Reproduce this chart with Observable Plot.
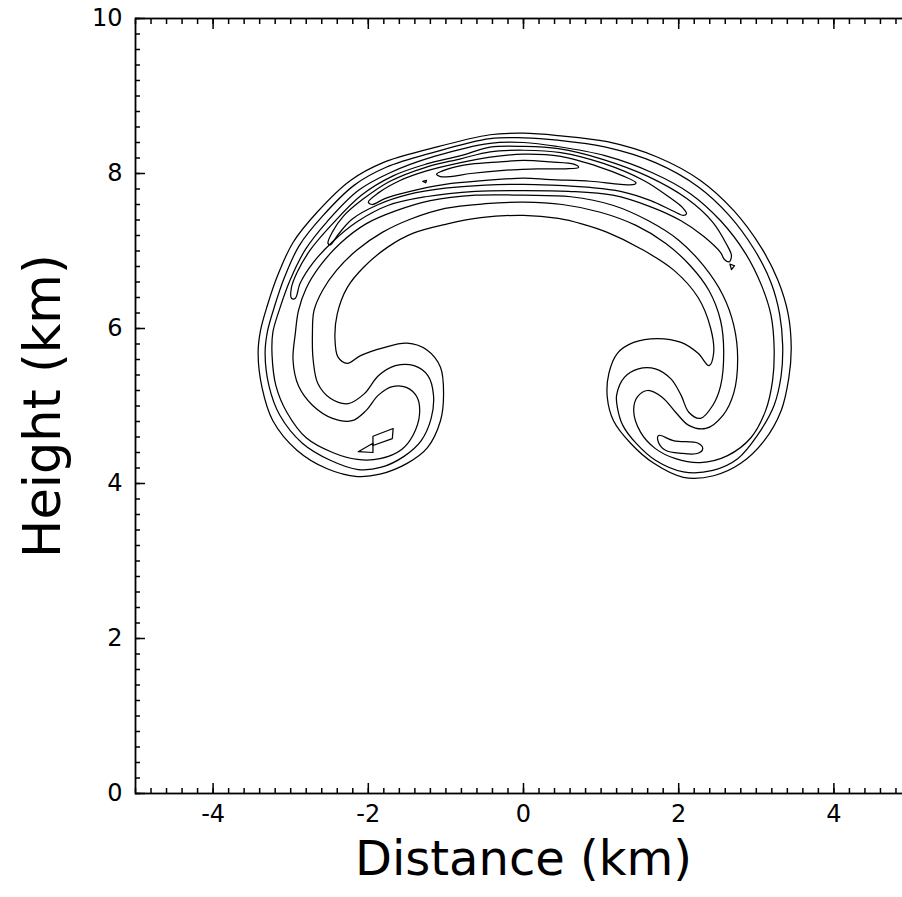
<!DOCTYPE html>
<html>
<head>
<meta charset="utf-8">
<script src="https://cdn.jsdelivr.net/npm/d3@7"></script>
<script src="https://cdn.jsdelivr.net/npm/@observablehq/plot@0.6"></script>
<style>
html, body { margin: 0; padding: 0; background: #fff; overflow: hidden; }
#chart svg { display: block; }
</style>
</head>
<body>
<div id="chart"></div>
<script>
// ---- axis data ----
const xTicks = [-4, -2, 0, 2, 4];
const xTickLabels = ["-4", "-2", "0", "2", "4"];
const yTicks = [0, 2, 4, 6, 8, 10];
const yTickLabels = ["0", "2", "4", "6", "8", "10"];
const xLabel = "Distance (km)";
const yLabel = "Height (km)";

// ---- contour lines, [distance km, height km] ----
const level1 = [[-2.27,5.55],[-2.39,5.63],[-2.43,5.88],[-2.40,6.19],[-2.27,6.53],[-2.06,6.79],[-1.75,7.05],[-1.42,7.23],[-0.98,7.35],[-0.55,7.43],[0.00,7.46],[0.45,7.42],[0.75,7.35],[1.08,7.24],[1.51,7.03],[1.94,6.75],[2.25,6.40],[2.41,6.01],[2.45,5.68],[2.39,5.52],[2.25,5.68],[2.03,5.82],[1.73,5.87],[1.42,5.82],[1.21,5.68],[1.10,5.42],[1.08,5.11],[1.16,4.81],[1.38,4.52],[1.68,4.26],[2.06,4.08],[2.45,4.10],[2.80,4.26],[3.10,4.55],[3.32,4.94],[3.42,5.37],[3.45,5.75],[3.41,6.19],[3.28,6.62],[3.06,7.05],[2.71,7.52],[2.28,7.91],[1.73,8.21],[1.08,8.41],[0.44,8.49],[0.00,8.52],[-0.43,8.50],[-1.20,8.32],[-1.81,8.14],[-2.23,7.91],[-2.66,7.50],[-2.97,7.11],[-3.17,6.68],[-3.30,6.30],[-3.39,5.97],[-3.42,5.68],[-3.37,5.24],[-3.23,4.81],[-2.92,4.43],[-2.53,4.19],[-2.14,4.09],[-1.85,4.12],[-1.50,4.26],[-1.24,4.46],[-1.07,4.81],[-1.03,5.16],[-1.07,5.50],[-1.24,5.72],[-1.50,5.81],[-1.81,5.75],[-2.10,5.65]];

const level2 = [[-2.26,5.03],[-2.49,5.10],[-2.65,5.29],[-2.71,5.59],[-2.72,5.94],[-2.70,6.23],[-2.59,6.49],[-2.41,6.75],[-2.15,7.01],[-1.82,7.24],[-1.46,7.41],[-1.01,7.55],[-0.49,7.61],[0.00,7.63],[0.50,7.60],[0.99,7.50],[1.45,7.33],[1.83,7.10],[2.15,6.81],[2.39,6.49],[2.54,6.10],[2.58,5.69],[2.54,5.26],[2.44,5.01],[2.28,4.84],[2.13,4.92],[2.03,5.14],[1.90,5.35],[1.70,5.48],[1.48,5.48],[1.30,5.37],[1.20,5.14],[1.21,4.98],[1.28,4.75],[1.45,4.52],[1.70,4.30],[2.06,4.15],[2.44,4.17],[2.76,4.32],[3.02,4.63],[3.23,5.01],[3.32,5.39],[3.34,5.78],[3.30,6.19],[3.19,6.59],[2.98,7.01],[2.65,7.46],[2.25,7.83],[1.70,8.14],[1.06,8.34],[0.44,8.43],[0.00,8.46],[-0.43,8.45],[-1.17,8.27],[-1.77,8.08],[-2.18,7.85],[-2.59,7.45],[-2.89,7.07],[-3.08,6.66],[-3.21,6.28],[-3.30,5.96],[-3.33,5.68],[-3.28,5.26],[-3.14,4.88],[-2.85,4.52],[-2.49,4.30],[-2.13,4.18],[-1.83,4.21],[-1.54,4.35],[-1.32,4.55],[-1.19,4.84],[-1.16,5.14],[-1.23,5.39],[-1.41,5.52],[-1.65,5.52],[-1.87,5.39],[-2.05,5.16]];

const level3 = [[-2.21,4.81],[-2.46,4.84],[-2.72,5.01],[-2.90,5.26],[-2.97,5.59],[-2.94,5.94],[-2.90,6.23],[-2.80,6.52],[-2.62,6.81],[-2.36,7.10],[-2.03,7.35],[-1.64,7.52],[-1.20,7.65],[-0.62,7.72],[0.00,7.72],[0.61,7.70],[1.15,7.59],[1.61,7.39],[2.00,7.14],[2.32,6.81],[2.57,6.43],[2.71,6.04],[2.76,5.61],[2.71,5.17],[2.57,4.88],[2.35,4.71],[2.13,4.75],[1.96,4.92],[1.79,5.11],[1.60,5.20],[1.47,5.12],[1.42,4.94],[1.51,4.66],[1.70,4.45],[1.96,4.32],[2.28,4.27],[2.63,4.36],[2.93,4.59],[3.12,4.94],[3.21,5.33],[3.23,5.74],[3.19,6.17],[3.07,6.55],[2.86,6.97],[2.54,7.39],[2.15,7.74],[1.66,8.01],[1.05,8.23],[0.43,8.35],[0.00,8.40],[-0.43,8.39],[-1.15,8.22],[-1.72,8.01],[-2.13,7.78],[-2.53,7.38],[-2.81,7.02],[-3.01,6.62],[-3.14,6.26],[-3.23,5.95],[-3.24,5.65],[-3.19,5.26],[-3.05,4.92],[-2.80,4.59],[-2.46,4.40],[-2.14,4.31],[-1.85,4.32],[-1.57,4.44],[-1.42,4.63],[-1.34,4.89],[-1.37,5.11],[-1.51,5.24],[-1.69,5.25],[-1.87,5.14],[-2.03,4.94]];

const level4 = [[-2.99,6.39],[-2.99,6.53],[-2.92,6.72],[-2.75,7.01],[-2.48,7.33],[-2.09,7.72],[-1.68,7.97],[-1.26,8.12],[-0.81,8.23],[-0.43,8.34],[0.00,8.35],[0.45,8.32],[1.03,8.18],[1.61,7.96],[2.10,7.68],[2.44,7.37],[2.62,7.08],[2.68,6.94],[2.65,6.86],[2.59,6.89],[2.54,6.98],[2.32,7.19],[2.03,7.39],[1.64,7.57],[1.15,7.72],[0.58,7.77],[0.00,7.78],[-0.62,7.77],[-1.26,7.70],[-1.74,7.59],[-2.14,7.38],[-2.46,7.12],[-2.71,6.85],[-2.88,6.58],[-2.94,6.39]];

const level5 = [[-2.52,7.10],[-2.46,7.25],[-2.32,7.45],[-2.08,7.66],[-1.72,7.90],[-1.26,8.08],[-0.81,8.19],[-0.43,8.28],[0.00,8.30],[0.48,8.27],[1.03,8.13],[1.55,7.91],[1.87,7.70],[2.05,7.56],[2.10,7.48],[2.06,7.46],[1.92,7.52],[1.64,7.65],[1.25,7.77],[0.86,7.82],[0.35,7.85],[0.00,7.86],[-0.49,7.85],[-1.01,7.81],[-1.48,7.73],[-1.87,7.60],[-2.21,7.41],[-2.39,7.21],[-2.49,7.08]];

const level6 = [[-2.00,7.63],[-1.87,7.75],[-1.59,7.91],[-1.26,8.03],[-0.81,8.14],[-0.43,8.21],[0.00,8.25],[0.48,8.22],[0.99,8.08],[1.28,7.97],[1.45,7.88],[1.43,7.86],[1.25,7.86],[0.86,7.90],[0.35,7.92],[0.00,7.94],[-0.49,7.91],[-1.01,7.86],[-1.46,7.77],[-1.78,7.68],[-1.95,7.60]];

const level7 = [[-1.12,7.99],[-0.97,8.06],[-0.68,8.12],[-0.30,8.15],[0.00,8.17],[0.35,8.15],[0.65,8.12],[0.71,8.08],[0.54,8.06],[0.18,8.06],[-0.26,8.04],[-0.68,8.00],[-0.94,7.96],[-1.07,7.96]];

const rightLobeCell = [[1.74,4.62],[1.94,4.55],[2.25,4.52],[2.31,4.45],[2.25,4.39],[2.03,4.39],[1.83,4.43],[1.74,4.53]];
const leftLobeCellA = [[-1.94,4.61],[-1.68,4.71],[-1.69,4.58],[-1.94,4.49]];
const leftLobeCellB = [[-2.13,4.41],[-1.94,4.52],[-1.94,4.40]];
const topDot = [[-1.30,7.90],[-1.25,7.91],[-1.26,7.88]];
const rightSpeck = [[2.66,6.83],[2.72,6.81],[2.68,6.76]];

// ---- tables for the library ----
const rows = (pts, id) => pts.map(([x, y]) => ({x, y, id}));
const smoothRows = [
  ...rows(level1, "L1"), ...rows(level2, "L2"), ...rows(level3, "L3"),
  ...rows(level4, "L4"), ...rows(level5, "L5"), ...rows(level6, "L6"),
  ...rows(level7, "L7"), ...rows(rightLobeCell, "RC")
];
const sharpRows = [
  ...rows(leftLobeCellA, "LCA"), ...rows(leftLobeCellB, "LCB"),
  ...rows(topDot, "TD"), ...rows(rightSpeck, "RS")
];

const blank = () => "";
const axisStyle = {strokeWidth: 1.5, label: null, tickFormat: blank};

const chart = Plot.plot({
  width: 911,
  height: 897,
  marginTop: 18,
  marginRight: 0,
  marginBottom: 104,
  marginLeft: 135,
  x: {domain: [-5, 5]},
  y: {domain: [0, 10]},
  style: {fontFamily: "'DejaVu Sans', sans-serif", background: "white", color: "black", maxWidth: "none"},
  marks: [
    Plot.line(smoothRows, {x: "x", y: "y", z: "id", curve: "catmull-rom-closed", stroke: "black", strokeWidth: 1.25}),
    Plot.line(sharpRows, {x: "x", y: "y", z: "id", curve: "linear-closed", stroke: "black", strokeWidth: 1.25}),
    // minor ticks (inward)
    Plot.axisX({anchor: "bottom", ticks: 50, tickSize: -5, ...axisStyle}),
    Plot.axisX({anchor: "top", ticks: 50, tickSize: -5, ...axisStyle}),
    Plot.axisY({anchor: "left", ticks: 50, tickSize: -5, ...axisStyle}),
    Plot.axisY({anchor: "right", ticks: 50, tickSize: -5, ...axisStyle}),
    // major ticks (inward)
    Plot.axisX(xTicks, {anchor: "bottom", tickSize: -10, ...axisStyle}),
    Plot.axisX(xTicks, {anchor: "top", tickSize: -10, ...axisStyle}),
    Plot.axisY(yTicks, {anchor: "left", tickSize: -10, ...axisStyle}),
    Plot.axisY(yTicks, {anchor: "right", tickSize: -10, ...axisStyle}),
    Plot.frame({stroke: "black", strokeWidth: 1.8}),
    // tick labels
    Plot.text(xTicks, {x: d => d, text: xTickLabels, frameAnchor: "bottom", lineAnchor: "middle", textAnchor: "middle", dy: 21, fontSize: 24, fill: "black"}),
    Plot.text(yTicks, {y: d => d, text: yTickLabels, frameAnchor: "left", lineAnchor: "middle", textAnchor: "end", dx: -13, fontSize: 24, fill: "black"}),
    // axis titles
    Plot.text([xLabel], {frameAnchor: "bottom", lineAnchor: "middle", textAnchor: "middle", dy: 66, fontSize: 48, text: d => d, fill: "black"}),
    Plot.text([yLabel], {frameAnchor: "left", lineAnchor: "middle", textAnchor: "middle", dx: -92, rotate: -90, fontSize: 51, text: d => d, fill: "black"})
  ]
});
document.getElementById("chart").appendChild(chart);
</script>
</body>
</html>
